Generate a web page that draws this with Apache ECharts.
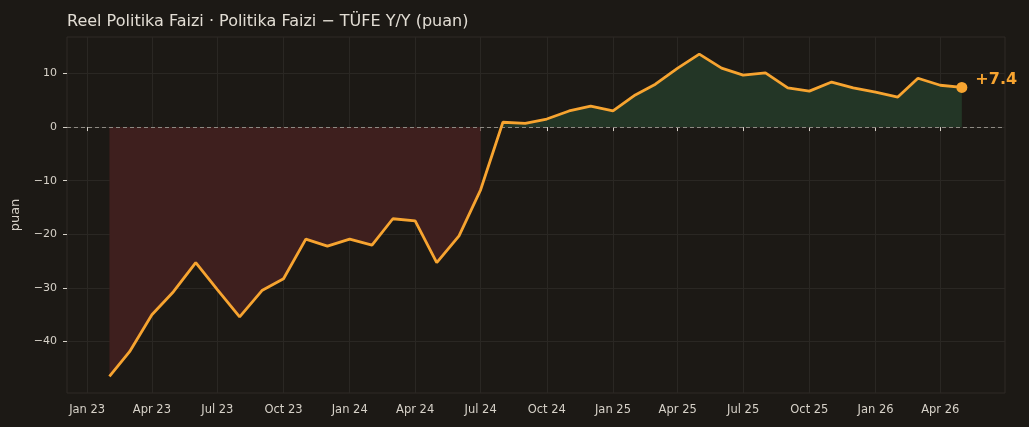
<!DOCTYPE html>
<html lang="tr" style="height: 100%">
<head>
  <meta charset="utf-8">
</head>
<body style="height: 100%; margin: 0; background: #1c1915">
  <div id="container" style="width: 1029px; height: 427px"></div>

  <script src="https://cdn.jsdelivr.net/npm/echarts@6/dist/echarts.min.js"></script>
  <script>
    // aylik veri: Subat 2023 - Mayis 2026
    var months = [
      '2023-02-01', '2023-03-01', '2023-04-01', '2023-05-01', '2023-06-01', '2023-07-01',
      '2023-08-01', '2023-09-01', '2023-10-01', '2023-11-01', '2023-12-01',
      '2024-01-01', '2024-02-01', '2024-03-01', '2024-04-01', '2024-05-01', '2024-06-01',
      '2024-07-01', '2024-08-01', '2024-09-01', '2024-10-01', '2024-11-01', '2024-12-01',
      '2025-01-01', '2025-02-01', '2025-03-01', '2025-04-01', '2025-05-01', '2025-06-01',
      '2025-07-01', '2025-08-01', '2025-09-01', '2025-10-01', '2025-11-01', '2025-12-01',
      '2026-01-01', '2026-02-01', '2026-03-01', '2026-04-01', '2026-05-01'
    ];
    var realRate = [
      -46.5, -41.9, -35.0, -30.7, -25.3, -30.3,
      -35.4, -30.5, -28.3, -20.9, -22.2,
      -20.9, -22.0, -17.1, -17.5, -25.3, -20.3,
      -11.7, 0.9, 0.7, 1.5, 3.0, 3.9,
      3.0, 6.0, 8.0, 11.0, 13.6, 11.0,
      9.7, 10.1, 7.3, 6.7, 8.4, 7.3,
      6.5, 5.6, 9.1, 7.8, 7.4
    ];
    var xTicks = [
      '2023-01-01', '2023-04-01', '2023-07-01', '2023-10-01',
      '2024-01-01', '2024-04-01', '2024-07-01', '2024-10-01',
      '2025-01-01', '2025-04-01', '2025-07-01', '2025-10-01',
      '2026-01-01', '2026-04-01'
    ];
    var yTicks = [-40, -30, -20, -10, 0, 10];
    var monthNames = ['Jan', 'Feb', 'Mar', 'Apr', 'May', 'Jun', 'Jul', 'Aug', 'Sep', 'Oct', 'Nov', 'Dec'];

    function ts(s) {
      var p = s.split('-');
      return Date.UTC(+p[0], +p[1] - 1, +p[2]);
    }

    var pts = months.map(function (m, i) { return [ts(m), realRate[i]]; });
    var negPts = pts.map(function (p) { return [p[0], p[1] < 0 ? p[1] : null]; });
    var posPts = pts.map(function (p) { return [p[0], p[1] >= 0 ? p[1] : null]; });
    var last = pts[pts.length - 1];

    var textColor = '#d6d1c8';
    var gridColor = '#2a2723';
    var orange = '#f7a430';

    var chart = echarts.init(document.getElementById('container'), null, { renderer: 'canvas' });

    var option = {
      backgroundColor: '#1c1915',
      animation: false,
      textStyle: { fontFamily: 'DejaVu Sans' },
      title: {
        text: 'Reel Politika Faizi · Politika Faizi − TÜFE Y/Y (puan)',
        left: 62,
        top: 9,
        textStyle: { color: '#e2ddd4', fontSize: 16, fontWeight: 'normal', fontFamily: 'DejaVu Sans' }
      },
      grid: { left: 67, right: 24, top: 37, bottom: 34, show: true, borderColor: '#2e2b27', borderWidth: 1 },
      xAxis: {
        type: 'value',
        min: ts('2022-12-04'),
        max: ts('2026-06-30'),
        axisLine: { show: false },
        axisTick: {
          show: true, inside: false, length: 4,
          lineStyle: { color: textColor },
          customValues: xTicks.map(ts)
        },
        axisLabel: {
          color: textColor, fontSize: 11.5, margin: 11,
          customValues: xTicks.map(ts),
          formatter: function (v) {
            var d = new Date(v);
            return monthNames[d.getUTCMonth()] + ' ' + String(d.getUTCFullYear()).slice(2);
          }
        },
        splitLine: { show: true, lineStyle: { color: gridColor, width: 1 } }
      },
      yAxis: {
        type: 'value',
        min: -49.6,
        max: 16.8,
        name: 'puan',
        nameLocation: 'middle',
        nameGap: 45,
        nameTextStyle: { color: textColor, fontSize: 13 },
        axisLine: { show: false },
        axisTick: {
          show: true, length: 4,
          lineStyle: { color: textColor },
          customValues: yTicks
        },
        axisLabel: {
          color: textColor, fontSize: 11, margin: 10,
          customValues: yTicks,
          formatter: function (v) { return String(v).replace('-', '\u2212'); }
        },
        splitLine: { show: true, lineStyle: { color: gridColor, width: 1 } }
      },
      series: [
        {
          type: 'line',
          data: negPts,
          showSymbol: false,
          connectNulls: false,
          lineStyle: { width: 1, color: '#4a2322' },
          areaStyle: { color: '#3e1f1e', opacity: 1, origin: 0 },
          z: 1
        },
        {
          type: 'line',
          data: posPts,
          showSymbol: false,
          connectNulls: false,
          lineStyle: { width: 1, color: '#27402c' },
          areaStyle: { color: '#233626', opacity: 1, origin: 0 },
          z: 1
        },
        {
          type: 'line',
          data: pts,
          showSymbol: false,
          lineStyle: { width: 2.8, color: orange },
          z: 3,
          markLine: {
            silent: true,
            symbol: 'none',
            label: { show: false },
            lineStyle: { type: [4, 3], color: '#8e8a83', width: 1 },
            data: [{ yAxis: 0 }],
            z: 2
          }
        },
        {
          type: 'scatter',
          data: [last],
          symbolSize: 11,
          itemStyle: { color: orange, opacity: 1 },
          label: {
            show: true,
            position: 'right',
            offset: [3, -8],
            color: orange,
            fontSize: 16,
            fontWeight: 'bold',
            formatter: function (p) { return '+' + p.value[1].toFixed(1); }
          },
          z: 4
        }
      ]
    };

    chart.setOption(option);
    window.addEventListener('resize', chart.resize);
  </script>
</body>
</html>
